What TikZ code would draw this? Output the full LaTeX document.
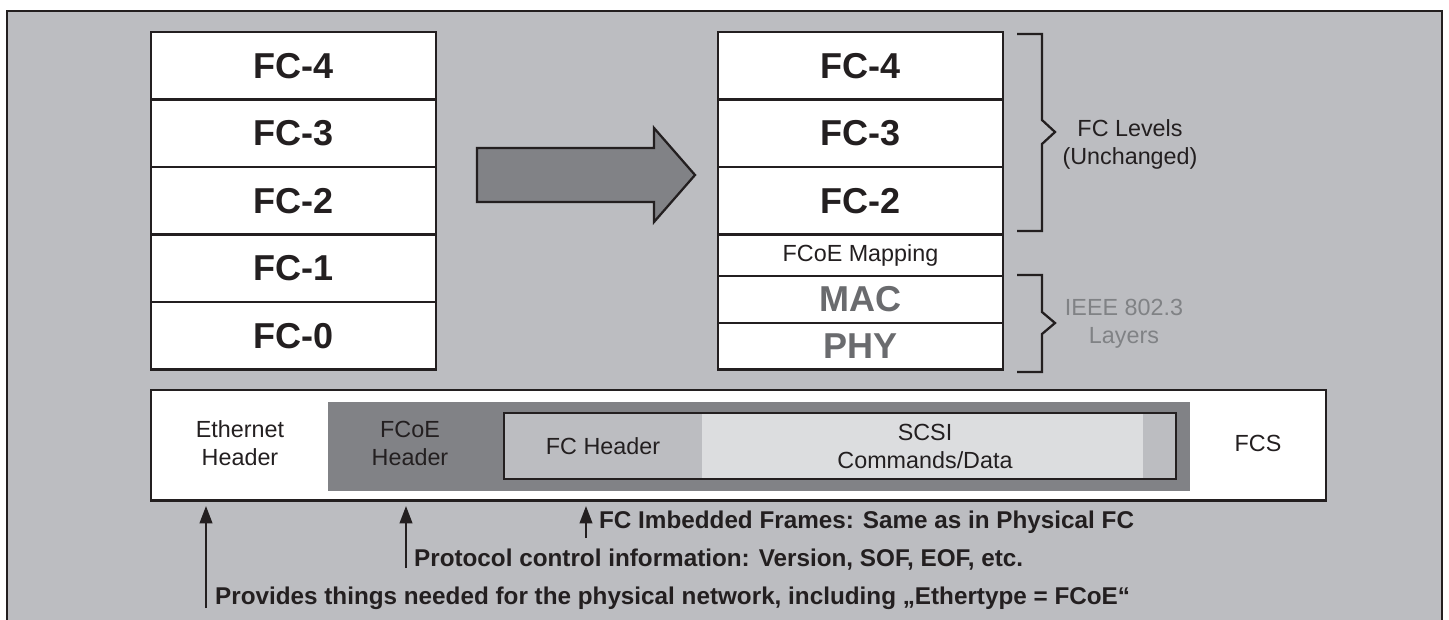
\documentclass[tikz,border=0pt]{standalone}
\usepackage{fontspec}
\setmainfont{Liberation Sans}
\usetikzlibrary{arrows.meta}

\definecolor{panelgray}{HTML}{BCBDC1}
\definecolor{fcoegray}{HTML}{818286}
\definecolor{scsifill}{HTML}{DCDDDF}
\definecolor{inkblack}{HTML}{231F20}
\definecolor{ethgray}{HTML}{6A6B6E}
\definecolor{ieeegray}{HTML}{808285}

\tikzset{every picture/.style={line width=1.7pt}}
\tikzset{
  levelfont/.style={font=\bfseries\fontsize{27}{32}\selectfont, text=inkblack},
  plainfont/.style={font=\fontsize{17.5}{21}\selectfont, text=inkblack, align=center},
  notefont/.style={font=\bfseries\fontsize{18.2}{21}\selectfont, text=inkblack, anchor=west, inner sep=0pt},
  uparrow/.style={draw=inkblack, line width=1.5pt, -{Triangle[length=13pt,width=9.5pt]}}
}

\begin{document}
\begin{tikzpicture}[x=0.75pt,y=0.75pt,yscale=-1,xscale=1]
	\useasboundingbox (0,0) rectangle (1449,619);
	\clip (0,0) rectangle (1449,619);
	\fill [white] (0,0) rectangle (1449,619);

	%Shape: Rectangle [outer panel]
	\draw [draw=inkblack, fill=panelgray] (7,11) rectangle (1442,650) ;

	%Shape: Rectangle [left stack]
	\draw [draw=inkblack, fill=white] (151,32) rectangle (436,369.5) ;
	%Straight Lines
	\draw [draw=inkblack] (151,99.5) -- (436,99.5) ;
	\draw [draw=inkblack] (151,167) -- (436,167) ;
	\draw [draw=inkblack] (151,234.5) -- (436,234.5) ;
	\draw [draw=inkblack] (151,302) -- (436,302) ;

	%Shape: Right Arrow
	\draw [draw=inkblack, fill=fcoegray] (477,148) -- (654,148) -- (654,128) -- (695,175) -- (654,222) -- (654,202) -- (477,202) -- cycle ;

	%Shape: Rectangle [right stack]
	\draw [draw=inkblack, fill=white] (718,32) rectangle (1003,369.5) ;
	%Straight Lines
	\draw [draw=inkblack] (718,99.5) -- (1003,99.5) ;
	\draw [draw=inkblack] (718,167) -- (1003,167) ;
	\draw [draw=inkblack] (718,234.5) -- (1003,234.5) ;
	\draw [draw=inkblack] (718,276) -- (1003,276) ;
	\draw [draw=inkblack] (718,323) -- (1003,323) ;

	%Shape: Brace
	\draw [draw=inkblack] (1017,34) -- (1042,34) -- (1042,120) -- (1055,132) -- (1042,144) -- (1042,231) -- (1017,231) ;
	%Shape: Brace
	\draw [draw=inkblack] (1017,275) -- (1042,275) -- (1042,312) -- (1055,323) -- (1042,334) -- (1042,372) -- (1017,372) ;

	%Shape: Rectangle [Ethernet frame]
	\draw [draw=inkblack, fill=white] (151,390) rectangle (1326,500.5) ;
	%Shape: Rectangle [FCoE frame]
	\fill [fcoegray] (328,402) rectangle (1190,491) ;
	%Shape: Rectangle [FC frame]
	\fill [panelgray] (504,413) rectangle (1176,479) ;
	\fill [scsifill] (702,413) rectangle (1143,479) ;
	\draw [draw=inkblack] (504,413) rectangle (1176,479) ;

	% Text Node
	\node [levelfont] (l4) at (293.5,65.75) {FC-4};
	\node [levelfont] (l3) at (293.5,133.25) {FC-3};
	\node [levelfont] (l2) at (293.5,200.75) {FC-2};
	\node [levelfont] (l1) at (293.5,268.25) {FC-1};
	\node [levelfont] (l0) at (293.5,335.75) {FC-0};
	% Text Node
	\node [levelfont] (r4) at (860.5,65.75) {FC-4};
	\node [levelfont] (r3) at (860.5,133.25) {FC-3};
	\node [levelfont] (r2) at (860.5,200.75) {FC-2};
	\node [plainfont] (map) at (860.5,255.25) {FCoE Mapping};
	\node [levelfont, text=ethgray] (mac) at (860.5,299.5) {MAC};
	\node [levelfont, text=ethgray] (phy) at (860.5,346.5) {PHY};
	% Text Node
	\node [plainfont] (fclev) at (1130,144) {FC Levels\\(Unchanged)};
	\node [plainfont, text=ieeegray] (ieee) at (1124,324) {IEEE 802.3\\Layers};
	% Text Node
	\node [plainfont] (ethhdr) at (240,443) {Ethernet\\Header};
	\node [plainfont] (fcoehdr) at (410,443) {FCoE\\Header};
	\node [plainfont] (fchdr) at (603,446) {FC Header};
	\node [plainfont] (scsi) at (925,446) {SCSI\\Commands/Data};
	\node [plainfont] (fcs) at (1258,443) {FCS};

	% Text Node
	\node [notefont] (embed) at (598,522) {FC Imbedded Frames: Same as in Physical FC};
	\node [notefont] (proto) at (413,560) {Protocol control information: Version, SOF, EOF, etc.};
	\node [notefont] (phys) at (214,598) {Provides things needed for the physical network, including „Ethertype = FCoE“};

	%Straight Lines [arrows]
	\coordinate (ethtop) at (206,506);
	\coordinate (ethfoot) at (206,608);
	\coordinate (fcoetop) at (406,506);
	\coordinate (fcoefoot) at (406,568);
	\coordinate (fctop) at (586,506);
	\coordinate (fcfoot) at (586,538);
	\draw [uparrow] (ethfoot) -- (ethtop) ;
	\draw [uparrow] (fcoefoot) -- (fcoetop) ;
	\draw [uparrow] (fcfoot) -- (fctop) ;

\end{tikzpicture}
\end{document}
